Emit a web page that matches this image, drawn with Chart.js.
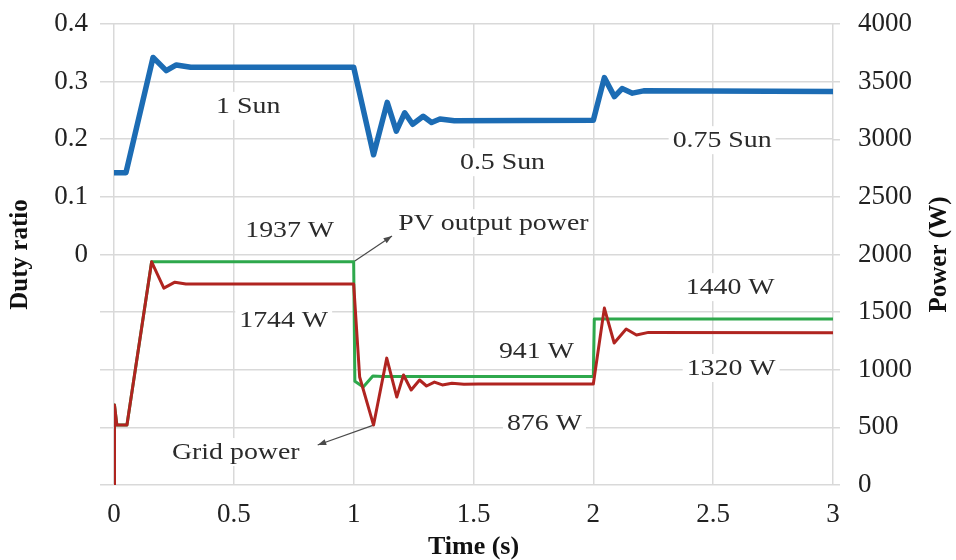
<!DOCTYPE html>
<html>
<head>
<meta charset="utf-8">
<script src="https://cdn.jsdelivr.net/npm/chart.js@4.4.1/dist/chart.umd.min.js"></script>
<style>
  html, body { margin: 0; padding: 0; background: #fff; }
  #wrap { width: 956px; height: 560px; }
</style>
</head>
<body>
<div id="wrap"><canvas id="myChart"></canvas></div>
<script>
// duty ratio (left axis)
const dutyTime = [0, 0.05, 0.163, 0.218, 0.26, 0.32, 1.0, 1.083, 1.14, 1.178, 1.213, 1.246, 1.29, 1.325, 1.36, 1.42, 2.0, 2.046, 2.088, 2.12, 2.163, 2.21, 3.0]
const dutyValues = [0.142, 0.142, 0.342, 0.319, 0.329, 0.325, 0.325, 0.173, 0.264, 0.214, 0.246, 0.226, 0.240, 0.229, 0.235, 0.232, 0.233, 0.307, 0.274, 0.288, 0.280, 0.284, 0.283]

// PV output power (right axis)
const pvTime = [0, 0.002, 0.012, 0.054, 0.157, 1.0, 1.005, 1.04, 1.08, 1.12, 2.0, 2.004, 3.0]
const pvValues = [0, 694, 520, 520, 1937, 1937, 900, 850, 945, 941, 941, 1440, 1440]

// Grid power (right axis)
const gridTime = [0, 0.002, 0.012, 0.054, 0.157, 0.208, 0.254, 0.3, 1.0, 1.025, 1.083, 1.138, 1.18, 1.208, 1.24, 1.275, 1.304, 1.337, 1.37, 1.41, 1.46, 1.52, 2.0, 2.046, 2.087, 2.137, 2.18, 2.23, 3.0]
const gridValues = [0, 694, 520, 520, 1937, 1708, 1760, 1744, 1744, 937, 520, 1101, 763, 954, 824, 911, 859, 893, 868, 882, 874, 877, 876, 1535, 1232, 1353, 1301, 1324, 1320]

// text notes: [text, time, power]
const noteTexts = ['1 Sun', '0.5 Sun', '0.75 Sun', '1937 W', 'PV output power', '1744 W', 'Grid power', '941 W', '876 W', '1440 W', '1320 W']
const noteTime = [0.56, 1.621, 2.5375, 0.733, 1.583, 0.708, 0.508, 1.7625, 1.796, 2.571, 2.575]
const notePower = [3290, 2801, 2992, 2215, 2272, 1437, 286, 1162, 538, 1717, 1015]

// arrows: from (time, power) to (time, power)
const arrowFrom = [[1.0, 1937], [1.083, 520]]
const arrowTo = [[1.16, 2160], [0.85, 347]]

const serif = "'Liberation Serif', 'Times New Roman', serif"
const gridColor = '#d9d9d9'

const toPoints = (xs, ys) => xs.map((x, i) => ({x: x, y: ys[i]}))

const notesPlugin = {
    id: 'notes',
    beforeDatasetsDraw(chart) {
        const ctx = chart.ctx
        const sx = chart.scales.x
        const sy = chart.scales.yPower
        ctx.save()
        ctx.font = '24px ' + serif
        ctx.textBaseline = 'middle'
        ctx.textAlign = 'center'
        noteTexts.forEach((t, i) => {
            const px = sx.getPixelForValue(noteTime[i])
            const py = sy.getPixelForValue(notePower[i])
            const w = ctx.measureText(t).width * 1.16
            ctx.fillStyle = '#fff'
            ctx.fillRect(px - w / 2 - 4, py - 14, w + 8, 28)
            ctx.fillStyle = '#2b2b2b'
            ctx.save()
            ctx.translate(px, py)
            ctx.scale(1.16, 1)
            ctx.fillText(t, 0, 1)
            ctx.restore()
        })
        // arrows
        ctx.strokeStyle = '#4a4a4a'
        ctx.fillStyle = '#4a4a4a'
        ctx.lineWidth = 1.2
        arrowFrom.forEach((a, i) => {
            const x1 = sx.getPixelForValue(a[0]), y1 = sy.getPixelForValue(a[1])
            const x2 = sx.getPixelForValue(arrowTo[i][0]), y2 = sy.getPixelForValue(arrowTo[i][1])
            const ang = Math.atan2(y2 - y1, x2 - x1)
            ctx.beginPath()
            ctx.moveTo(x1, y1)
            ctx.lineTo(x2, y2)
            ctx.stroke()
            ctx.beginPath()
            ctx.moveTo(x2, y2)
            ctx.lineTo(x2 - 9 * Math.cos(ang - 0.35), y2 - 9 * Math.sin(ang - 0.35))
            ctx.lineTo(x2 - 9 * Math.cos(ang + 0.35), y2 - 9 * Math.sin(ang + 0.35))
            ctx.closePath()
            ctx.fill()
        })
        // right axis title, read bottom to top
        const area = chart.chartArea
        ctx.font = 'bold 25px ' + serif
        ctx.fillStyle = '#111'
        ctx.translate(940, (area.top + area.bottom) / 2)
        ctx.rotate(-Math.PI / 2)
        ctx.fillText('Power (W)', 0, 0)
        ctx.restore()
    }
}

// keep label overflow from pushing the plot down
const fitVertical = width => scale => {
    scale.width = width
    scale.paddingTop = 0
    scale.paddingBottom = 0
}

const data = {
    datasets: [
        {
            label: 'Duty ratio',
            data: toPoints(dutyTime, dutyValues),
            yAxisID: 'yDuty',
            borderColor: '#1c6cb4',
            borderWidth: 5.5,
            order: 0
        },
        {
            label: 'Grid power',
            data: toPoints(gridTime, gridValues),
            yAxisID: 'yPower',
            borderColor: '#b02420',
            borderWidth: 3,
            order: 1
        },
        {
            label: 'PV output power',
            data: toPoints(pvTime, pvValues),
            yAxisID: 'yPower',
            borderColor: '#2ea84c',
            borderWidth: 3,
            order: 2
        }
    ]
}

const options = {
    animation: false,
    responsive: true,
    maintainAspectRatio: false,
    layout: {padding: {top: 24}},
    elements: {
        point: {radius: 0},
        line: {tension: 0, borderJoinStyle: 'round', borderCapStyle: 'round'}
    },
    plugins: {
        legend: {display: false},
        tooltip: {enabled: false}
    },
    scales: {
        x: {
            type: 'linear',
            min: 0,
            max: 3,
            ticks: {
                stepSize: 0.5,
                padding: 14,
                color: '#222',
                font: {family: serif, size: 27},
                callback: v => String(v)
            },
            grid: {color: gridColor, lineWidth: 1.5, drawTicks: false},
            border: {display: false},
            title: {
                display: true,
                text: 'Time (s)',
                color: '#111',
                padding: {top: 0, bottom: 0},
                font: {family: serif, size: 26, weight: 'bold', lineHeight: 1}
            },
            afterFit: scale => { scale.height = 75 }
        },
        yDuty: {
            position: 'left',
            min: -0.4,
            max: 0.4,
            ticks: {
                stepSize: 0.1,
                padding: 12,
                color: '#222',
                font: {family: serif, size: 27},
                callback: v => v >= -1e-9 ? String(Math.round(v * 10) / 10) : ''
            },
            grid: {color: gridColor, lineWidth: 1.5, tickLength: 14},
            border: {display: false},
            title: {
                display: true,
                text: 'Duty ratio',
                color: '#111',
                padding: {top: 8, bottom: 0},
                font: {family: serif, size: 25, weight: 'bold', lineHeight: 1}
            },
            afterFit: fitVertical(114)
        },
        yPower: {
            position: 'right',
            min: 0,
            max: 4000,
            ticks: {
                stepSize: 500,
                padding: 18,
                color: '#222',
                font: {family: serif, size: 27},
                callback: v => String(v)
            },
            grid: {color: gridColor, lineWidth: 1.5, tickLength: 7, drawOnChartArea: false},
            border: {display: false},
            afterFit: fitVertical(123)
        }
    }
}

new Chart('myChart', {type: 'line', data, options, plugins: [notesPlugin]})
</script>
</body>
</html>
